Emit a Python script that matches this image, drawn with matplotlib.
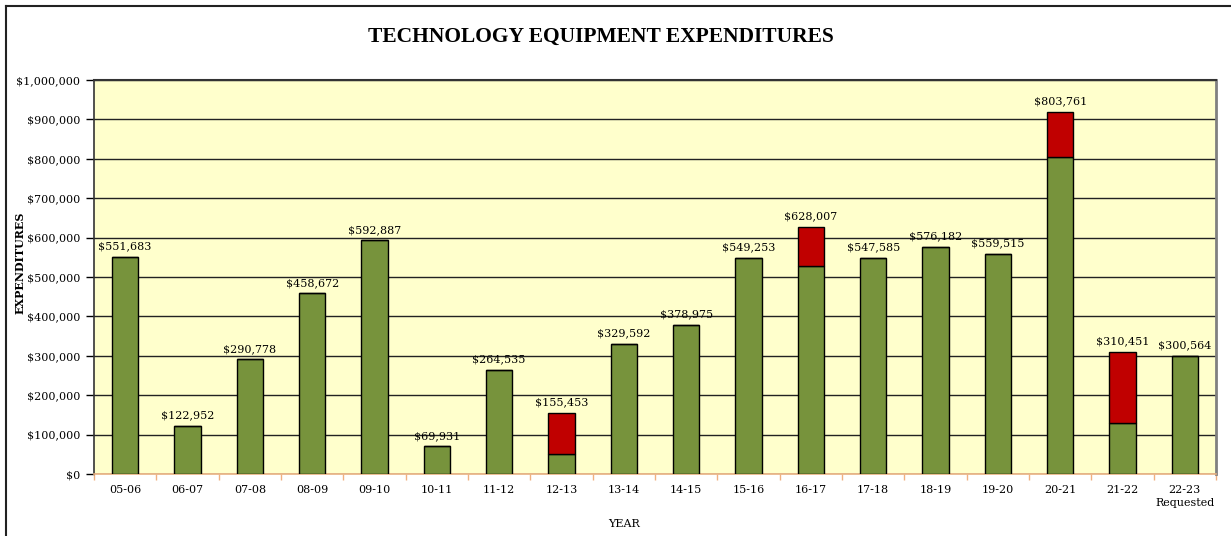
import matplotlib
matplotlib.use("Agg")
import matplotlib.pyplot as plt
from matplotlib.ticker import FuncFormatter, FixedLocator
import numpy as np

categories = ["05-06", "06-07", "07-08", "08-09", "09-10", "10-11", "11-12", "12-13",
              "13-14", "14-15", "15-16", "16-17", "17-18", "18-19", "19-20", "20-21",
              "21-22", "22-23\nRequested"]
green_values = [551683, 122952, 290778, 458672, 592887, 69931, 264535, 51000,
                329592, 378975, 549253, 528000, 547585, 576182, 559515, 803761,
                129000, 300564]
red_values = [0, 0, 0, 0, 0, 0, 0, 104453,
              0, 0, 0, 100007, 0, 0, 0, 116000,
              181451, 0]
label_values = [551683, 122952, 290778, 458672, 592887, 69931, 264535, 155453,
                329592, 378975, 549253, 628007, 547585, 576182, 559515, 803761,
                310451, 300564]

title = "TECHNOLOGY EQUIPMENT EXPENDITURES"
y_label = "EXPENDITURES"
x_label = "YEAR"

GREEN = "#77933C"
RED = "#C00000"
BG = "#FFFFCC"
font = "DejaVu Serif"

fig = plt.figure(figsize=(12.31, 5.36), dpi=100)
ax = fig.add_axes([94/1231, 1-474/536, (1216-94)/1231, (474-80)/536])
ax.set_facecolor(BG)

x = np.arange(len(categories))
w = 0.42
ax.bar(x, green_values, w, color=GREEN, edgecolor="black", linewidth=1.0, zorder=3)
ax.bar(x, red_values, w, bottom=green_values, color=RED, edgecolor="black", linewidth=1.0, zorder=3)

tops = [g + r for g, r in zip(green_values, red_values)]
for xi, t, lv in zip(x, tops, label_values):
    ax.annotate(f"${lv:,.0f}", (xi, t), xytext=(0, 4), textcoords="offset points",
                ha="center", va="bottom", fontsize=8, family=font, color="black", zorder=4)

ax.set_xlim(-0.5, len(categories) - 0.5)
ax.set_ylim(0, 1000000)
ax.set_yticks(np.arange(0, 1000001, 100000))
ax.yaxis.set_major_formatter(FuncFormatter(lambda v, p: f"${v:,.0f}"))
ax.grid(axis="y", color="#222222", linewidth=1.0, zorder=1)
ax.set_axisbelow(True)

ax.set_xticks(x)
ax.set_xticklabels(categories, fontsize=8, family=font, linespacing=1.35)
ax.tick_params(axis="x", length=0, pad=8)
ax.xaxis.set_minor_locator(FixedLocator(np.arange(-0.5, len(categories), 1.0)))
ax.tick_params(axis="x", which="minor", length=4, color="#F0B080", width=1)
ax.tick_params(axis="y", length=6, width=1, color="black", pad=4, labelsize=8)
for lab in ax.get_yticklabels():
    lab.set_family(font)

ax.spines["bottom"].set_color("#E8B080")
ax.spines["bottom"].set_linewidth(1.2)
ax.spines["left"].set_color("#333333")
ax.spines["left"].set_linewidth(1.2)
ax.spines["top"].set_color("#333333")
ax.spines["top"].set_linewidth(1.5)
ax.spines["right"].set_color("#808080")
ax.spines["right"].set_linewidth(2)

fig.text(601/1231, 1-37/536, title, ha="center", va="center", fontsize=15.5,
         fontweight="bold", family="Liberation Serif")
fig.text(20/1231, 1-263/536, y_label, ha="center", va="center", rotation=90,
         fontsize=8, fontweight="bold", family=font)
fig.text(624/1231, 1-524/536, x_label, ha="center", va="center", fontsize=8, family=font)

# outer frame (top and left visible)
fig.add_artist(plt.Line2D([6/1231, 6/1231], [0, 1-6/536], transform=fig.transFigure,
                          color="#222222", linewidth=1.5))
fig.add_artist(plt.Line2D([6/1231, 1], [1-6/536, 1-6/536], transform=fig.transFigure,
                          color="#222222", linewidth=1.5))

fig.savefig("out.png", dpi=100)
